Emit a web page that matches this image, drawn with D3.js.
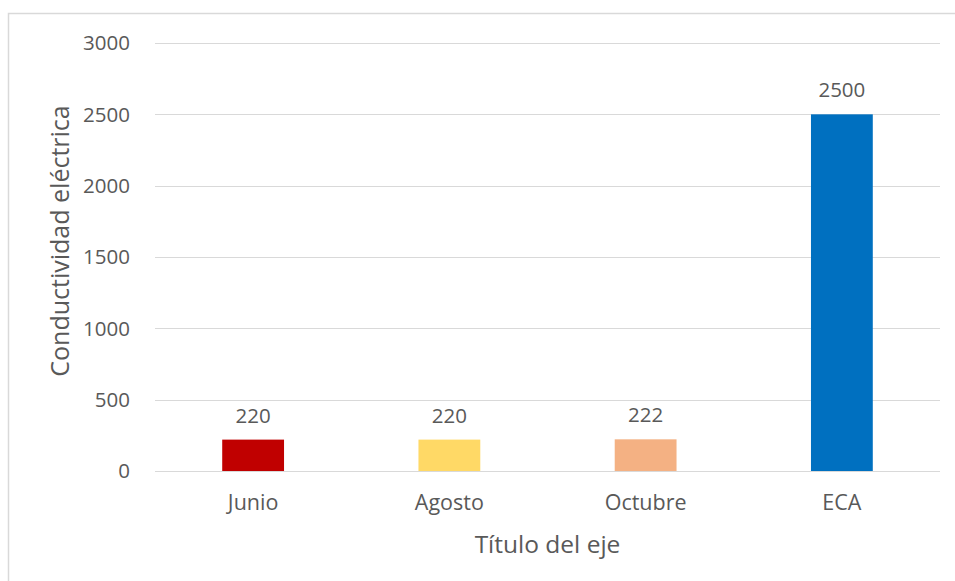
<!DOCTYPE html>
<html lang="es">
<head>
    <meta charset="UTF-8">
    <title>Conductividad eléctrica</title>
    <script src="https://d3js.org/d3.v7.min.js"></script>
    <style>
        body {
            margin: 0;
            padding: 0;
            background-color: #fff;
            font-family: "Open Sans", Calibri, sans-serif;
        }
        text {
            fill: #595959;
        }
        .grid line {
            stroke: #d9d9d9;
            stroke-width: 1;
        }
    </style>
</head>
<body>
    <div id="chart"></div>
    <script>
        const categories = ["Junio", "Agosto", "Octubre", "ECA"];
        const values = [220, 220, 222, 2500];
        const colors = ["#c00000", "#ffd966", "#f4b183", "#0070c0"];
        const yTicks = [0, 500, 1000, 1500, 2000, 2500, 3000];

        const W = 955, H = 581;
        const margin = {top: 43, right: 15, bottom: 110, left: 155};
        const width = W - margin.left - margin.right;
        const height = H - margin.top - margin.bottom;

        const svg = d3.select("#chart").append("svg")
            .attr("width", W)
            .attr("height", H);

        // chart frame (cut off at right and bottom in the original)
        svg.append("rect")
            .attr("x", 8.5).attr("y", 13.5)
            .attr("width", 1000).attr("height", 700)
            .attr("fill", "none")
            .attr("stroke", "#d9d9d9")
            .attr("stroke-width", 1.5);

        const g = svg.append("g")
            .attr("transform", `translate(${margin.left}, ${margin.top})`);

        const x = d3.scaleBand().domain(categories).range([0, width]).paddingInner(0.685).paddingOuter(0.3425);
        const y = d3.scaleLinear().domain([0, 3000]).range([height, 0]);

        // gridlines
        g.append("g").attr("class", "grid")
            .selectAll("line").data(yTicks).join("line")
            .attr("x1", 0).attr("x2", width)
            .attr("y1", d => Math.round(y(d)) + 0.5)
            .attr("y2", d => Math.round(y(d)) + 0.5);

        // y tick labels
        g.append("g").selectAll("text").data(yTicks).join("text")
            .attr("x", -25)
            .attr("y", d => y(d))
            .attr("dy", "0.35em")
            .attr("text-anchor", "end")
            .attr("font-size", 20.5)
            .text(d => d);

        // bars
        g.selectAll(".bar").data(values).join("rect")
            .attr("class", "bar")
            .attr("x", (d, i) => x(categories[i]))
            .attr("width", x.bandwidth())
            .attr("y", d => y(d))
            .attr("height", d => height - y(d))
            .attr("fill", (d, i) => colors[i]);

        // data labels
        g.selectAll(".lbl").data(values).join("text")
            .attr("class", "lbl")
            .attr("x", (d, i) => x(categories[i]) + x.bandwidth() / 2)
            .attr("y", d => y(d) - 17)
            .attr("text-anchor", "middle")
            .attr("font-size", 20.5)
            .text(d => d);

        // category labels
        g.append("g").selectAll("text").data(categories).join("text")
            .attr("x", d => x(d) + x.bandwidth() / 2)
            .attr("y", height + 39)
            .attr("text-anchor", "middle")
            .attr("font-size", 21.5)
            .text(d => d);

        // axis titles
        g.append("text")
            .attr("x", width / 2)
            .attr("y", height + 82)
            .attr("text-anchor", "middle")
            .attr("font-size", 24.5)
            .text("Título del eje");

        g.append("text")
            .attr("transform", `translate(${-86}, ${height / 2 - 16}) rotate(-90)`)
            .attr("text-anchor", "middle")
            .attr("font-size", 25)
            .text("Conductividad eléctrica");
    </script>
</body>
</html>
